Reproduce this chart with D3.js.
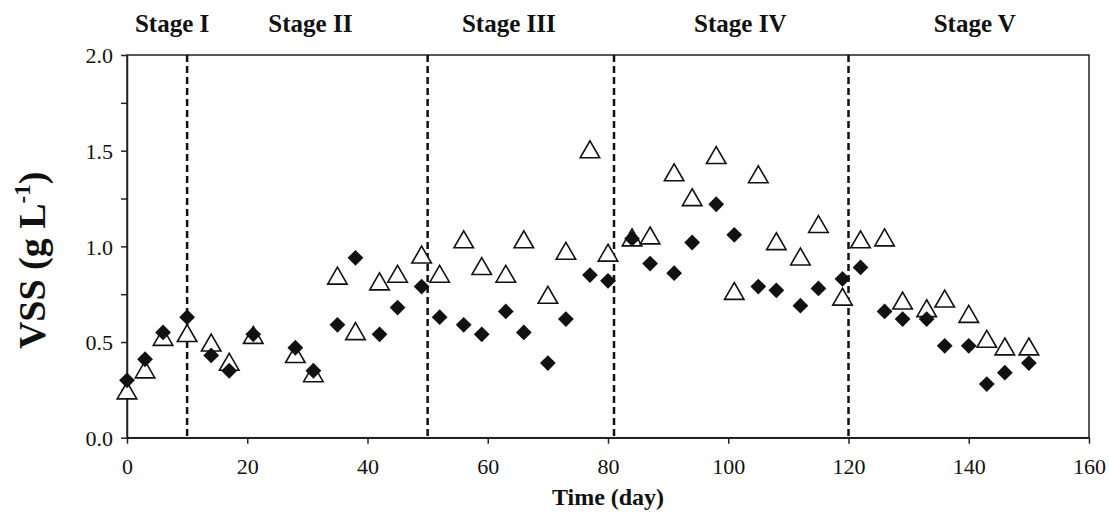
<!DOCTYPE html>
<html>
<head>
<meta charset="utf-8">
<script src="https://cdn.jsdelivr.net/npm/d3@7"></script>
<style>
  body { margin: 0; background: #fff; }
  svg text { font-family: "Liberation Serif", "Times New Roman", serif; fill: #111; }
</style>
</head>
<body>
<script>
const days = [0, 3, 6, 10, 14, 17, 21, 28, 31, 35, 38, 42, 45, 49, 52, 56, 59, 63, 66, 70, 73, 77, 80, 84, 87, 91, 94, 98, 101, 105, 108, 112, 115, 119, 122, 126, 129, 133, 136, 140, 143, 146, 150]
const filled = [0.30, 0.41, 0.55, 0.63, 0.43, 0.35, 0.54, 0.47, 0.35, 0.59, 0.94, 0.54, 0.68, 0.79, 0.63, 0.59, 0.54, 0.66, 0.55, 0.39, 0.62, 0.85, 0.82, 1.04, 0.91, 0.86, 1.02, 1.22, 1.06, 0.79, 0.77, 0.69, 0.78, 0.83, 0.89, 0.66, 0.62, 0.62, 0.48, 0.48, 0.28, 0.34, 0.39]
const open = [0.24, 0.35, 0.52, 0.54, 0.49, 0.39, 0.53, 0.43, 0.33, 0.84, 0.55, 0.81, 0.85, 0.95, 0.85, 1.03, 0.89, 0.85, 1.03, 0.74, 0.97, 1.50, 0.96, 1.04, 1.05, 1.38, 1.25, 1.47, 0.76, 1.37, 1.02, 0.94, 1.11, 0.73, 1.03, 1.04, 0.71, 0.67, 0.72, 0.64, 0.51, 0.47, 0.47]
const stageBreaks = [10, 50, 81, 120]
const stageNames = ['Stage I', 'Stage II', 'Stage III', 'Stage IV', 'Stage V']
const stageLabelDay = [7.5, 30.5, 63.5, 102, 141]
const xTicks = [0, 20, 40, 60, 80, 100, 120, 140, 160]
const yTicks = [0, 0.25, 0.5, 0.75, 1, 1.25, 1.5, 1.75, 2]

const width = 1109
const height = 513
const margin = {left: 127, right: 20, top: 55, bottom: 75.3}
const serif = '"Liberation Serif", "Times New Roman", serif'

const svg = d3.select('body').append('svg').attr('width', width).attr('height', height)

const x = d3.scaleLinear().domain([0, 160]).range([margin.left, width - margin.right])
const y = d3.scaleLinear().domain([0, 2]).range([height - margin.bottom, margin.top])

// frame
svg.append('rect')
  .attr('x', x(0)).attr('y', y(2))
  .attr('width', x(160) - x(0)).attr('height', y(0) - y(2))
  .attr('fill', 'none').attr('stroke', '#222').attr('stroke-width', 1.5)

const xAxis = d3.axisBottom(x).tickValues(xTicks).tickSize(6).tickSizeOuter(0).tickFormat(d3.format('d'))
const yAxis = d3.axisLeft(y).tickValues(yTicks).tickSize(6).tickSizeOuter(0)
  .tickFormat(d => d % 0.5 === 0 ? d3.format('.1f')(d) : '')

const gx = svg.append('g').attr('transform', `translate(0,${y(0)})`).call(xAxis).attr('font-family', serif)
gx.selectAll('text').style('font-family', serif).style('font-size', '22px').attr('dy', null).attr('y', 36)
const gy = svg.append('g').attr('transform', `translate(${x(0)},0)`).call(yAxis).attr('font-family', serif)
gy.selectAll('text').style('font-family', serif).style('font-size', '22px').attr('x', -14).attr('dy', '0.35em')
svg.selectAll('.domain, .tick line').attr('stroke', '#222').attr('stroke-width', 1.5)

// stage dividers
svg.selectAll('.divider').data(stageBreaks).enter().append('line')
  .attr('class', 'divider')
  .attr('x1', d => x(d)).attr('x2', d => x(d))
  .attr('y1', y(2)).attr('y2', y(0))
  .attr('stroke', '#111').attr('stroke-width', 2.5).attr('stroke-dasharray', '7,4')

svg.selectAll('.stage').data(stageNames).enter().append('text')
  .attr('class', 'stage')
  .attr('x', (d, i) => x(stageLabelDay[i])).attr('y', 32)
  .attr('text-anchor', 'middle')
  .style('font-size', '25px').style('font-weight', 'bold')
  .text(d => d)

// open triangles
const tri = d3.symbol().type(d3.symbolTriangle).size(165)
svg.selectAll('.tri').data(days).enter().append('path')
  .attr('class', 'tri')
  .attr('d', tri)
  .attr('transform', (d, i) => `translate(${x(d)},${y(open[i]) + 1.5})`)
  .attr('fill', '#fff').attr('stroke', '#111').attr('stroke-width', 1.6)

// filled diamonds
const dia = d3.symbol().type(d3.symbolSquare).size(125)
svg.selectAll('.dia').data(days).enter().append('path')
  .attr('class', 'dia')
  .attr('d', dia)
  .attr('transform', (d, i) => `translate(${x(d)},${y(filled[i])}) rotate(45)`)
  .attr('fill', '#111')

// axis titles
svg.append('text')
  .attr('x', (x(0) + x(160)) / 2).attr('y', 505)
  .attr('text-anchor', 'middle')
  .style('font-size', '24px').style('font-weight', 'bold')
  .text('Time (day)')

const yl = svg.append('text')
  .attr('transform', `translate(45,${(y(0) + y(2)) / 2 + 14}) rotate(-90)`)
  .attr('text-anchor', 'middle')
  .style('font-size', '38px').style('font-weight', 'bold')
yl.append('tspan').text('VSS (g L')
yl.append('tspan').text('-1').style('font-size', '23px').attr('dy', -15)
yl.append('tspan').text(')').attr('dy', 15)
</script>
</body>
</html>
